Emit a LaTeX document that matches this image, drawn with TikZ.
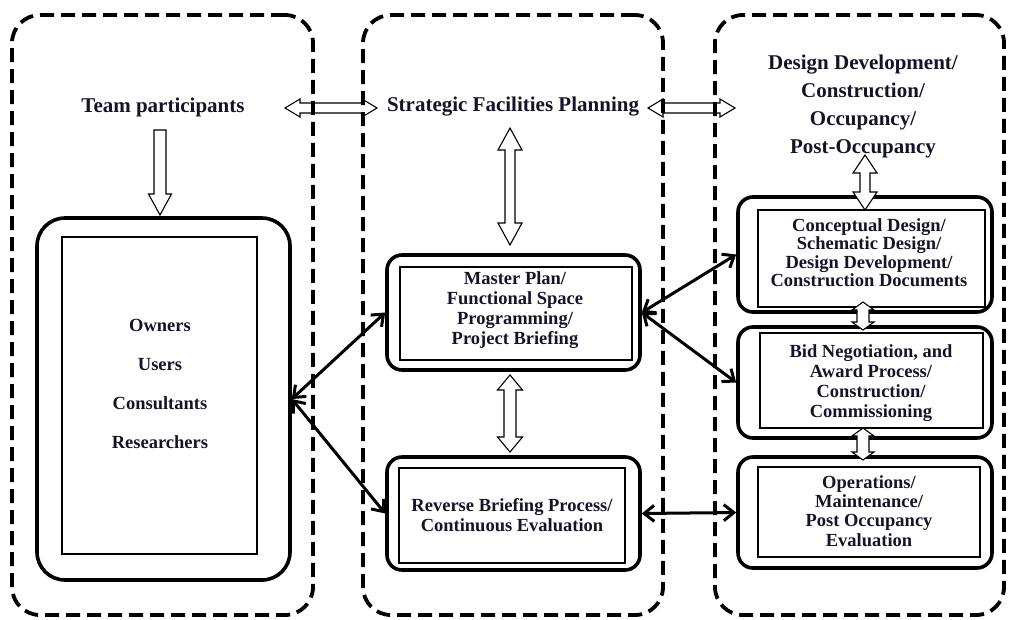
\documentclass[tikz,border=0pt]{standalone}
\usepackage{fontspec}
\setmainfont{Liberation Serif}
\usetikzlibrary{calc,arrows.meta}
\definecolor{ink}{RGB}{20,20,40}
\begin{document}
\begin{tikzpicture}[x=1pt,y=-1pt,
  panel/.style={draw, line width=3.8pt, dash pattern=on 14pt off 7pt, rounded corners=28pt, inner sep=0pt},
  outerbox/.style={draw, line width=3.6pt, rounded corners=#1, inner sep=0pt},
  innerbox/.style={draw, line width=1.1pt, inner sep=0pt},
  headtext/.style={font=\bfseries\fontsize{21}{27.7}\selectfont, text=ink, align=center, inner sep=0pt},
  boxtext/.style={font=\bfseries\fontsize{18.5}{#1}\selectfont, text=ink, align=center, inner sep=0pt},
  link/.style={line width=3pt, {Straight Barb[length=10pt,width=16pt]}-{Straight Barb[length=10pt,width=16pt]}},
  % hollow double-headed arrow: #1 head length, #2 half head width, #3 half shaft width
  fattwo/.style n args={3}{draw, line width=1.1pt, fill=white, line join=miter, to path={
    -- ($(\tikztostart)!#1!(\tikztotarget)!#2!90:(\tikztotarget)$)
    -- ($(\tikztostart)!#1!(\tikztotarget)!#3!90:(\tikztotarget)$)
    -- ($(\tikztotarget)!#1!(\tikztostart)!#3!-90:(\tikztostart)$)
    -- ($(\tikztotarget)!#1!(\tikztostart)!#2!-90:(\tikztostart)$)
    -- (\tikztotarget)
    -- ($(\tikztotarget)!#1!(\tikztostart)!#2!90:(\tikztostart)$)
    -- ($(\tikztotarget)!#1!(\tikztostart)!#3!90:(\tikztostart)$)
    -- ($(\tikztostart)!#1!(\tikztotarget)!#3!-90:(\tikztotarget)$)
    -- ($(\tikztostart)!#1!(\tikztotarget)!#2!-90:(\tikztotarget)$)
    -- cycle}},
  % hollow single-headed arrow
  fatone/.style n args={3}{draw, line width=1.1pt, fill=white, line join=miter, to path={
    -- ($(\tikztostart)!#3!90:(\tikztotarget)$)
    -- ($(\tikztotarget)!#1!(\tikztostart)!#3!-90:(\tikztostart)$)
    -- ($(\tikztotarget)!#1!(\tikztostart)!#2!-90:(\tikztostart)$)
    -- (\tikztotarget)
    -- ($(\tikztotarget)!#1!(\tikztostart)!#2!90:(\tikztostart)$)
    -- ($(\tikztotarget)!#1!(\tikztostart)!#3!90:(\tikztostart)$)
    -- ($(\tikztostart)!#3!-90:(\tikztotarget)$)
    -- cycle}}
]
\useasboundingbox (0,0) rectangle (1009,619);

% participants box
\node[outerbox=28pt, minimum width=253pt, minimum height=362pt] (own) at (163.5,399) {};
\node[innerbox, minimum width=195pt, minimum height=317pt] (owni) at (159.5,395.5) {};
\node[boxtext=39] (ownt) at (160,383.5) {Owners\\Users\\Consultants\\Researchers};

% planning boxes
\node[outerbox=15pt, minimum width=253pt, minimum height=115pt] (mp) at (513.5,312.5) {};
\node[innerbox, minimum width=232pt, minimum height=93pt] (mpi) at (516,313.5) {};
\node[boxtext=20] (mpt) at (515,310) {Master Plan/\\Functional Space\\Programming/\\Project Briefing};

\node[outerbox=15pt, minimum width=253pt, minimum height=113pt] (rv) at (513.5,513.5) {};
\node[innerbox, minimum width=226pt, minimum height=95pt] (rvi) at (512,515.5) {};
\node[boxtext=20] (rvt) at (512,515) {Reverse Briefing Process/\\Continuous Evaluation};

% delivery boxes
\node[outerbox=15pt, minimum width=254pt, minimum height=115pt] (b1) at (865,254.5) {};
\node[innerbox, minimum width=227pt, minimum height=97pt] (b1i) at (871.5,258.5) {};
\node[boxtext=18.5] (b1t) at (869,252.5) {Conceptual Design/\\Schematic Design/\\Design Development/\\Construction Documents};

\node[outerbox=15pt, minimum width=254pt, minimum height=111pt] (b2) at (865,382.5) {};
\node[innerbox, minimum width=223pt, minimum height=95pt] (b2i) at (871.5,380.5) {};
\node[boxtext=20] (b2t) at (871,383) {Bid Negotiation, and\\Award Process/\\Construction/\\Commissioning};

\node[outerbox=15pt, minimum width=254pt, minimum height=111pt] (b3) at (865,512.5) {};
\node[innerbox, minimum width=222pt, minimum height=90pt] (b3i) at (869,512) {};
\node[boxtext=19.3] (b3t) at (869,511) {Operations/\\Maintenance/\\Post Occupancy\\Evaluation};

% column headings
\node[headtext] (tp) at (163,107) {Team participants};
\node[headtext] (sfp) at (513,107) {Strategic Facilities Planning};
\node[headtext] (dd) at (863,106.5) {Design Development/\\Construction/\\Occupancy/\\Post-Occupancy};

% hollow arrow end points
\coordinate (d1a) at (160,130);  \coordinate (d1b) at (160,215);
\coordinate (h1a) at (285,108);  \coordinate (h1b) at (377,108);
\coordinate (h2a) at (648,108);  \coordinate (h2b) at (735,108);
\coordinate (v1a) at (510,128);  \coordinate (v1b) at (510,245);
\coordinate (v2a) at (510,375);  \coordinate (v2b) at (510,452);
\coordinate (v3a) at (865,155);  \coordinate (v3b) at (865,210);
\coordinate (v4a) at (863,302);  \coordinate (v4b) at (863,330);
\coordinate (v5a) at (863,428);  \coordinate (v5b) at (863,460);

\draw[fatone={21pt}{11.5pt}{6pt}] (d1a) to (d1b);
\draw[fattwo={15pt}{9pt}{5pt}] (h1a) to (h1b);
\draw[fattwo={15pt}{9pt}{5pt}] (h2a) to (h2b);
\draw[fattwo={22pt}{12pt}{5pt}] (v1a) to (v1b);
\draw[fattwo={15pt}{12.5pt}{6pt}] (v2a) to (v2b);
\draw[fattwo={18pt}{12pt}{5pt}] (v3a) to (v3b);
\draw[fattwo={8pt}{11pt}{6pt}] (v4a) to (v4b);
\draw[fattwo={8pt}{11pt}{6pt}] (v5a) to (v5b);

% information links
\draw[link] (own.east) -- (mp.west);
\draw[link] (own.east) -- (rv.west);
\draw[link] (mp.east) -- (b1.west);
\draw[link] (mp.east) -- (b2.west);
\draw[link] (rv.east) -- (b3.west);

% dashed columns
\node[panel, minimum width=301pt, minimum height=600pt] (colA) at (162.5,315) {};
\node[panel, minimum width=300pt, minimum height=600pt] (colB) at (513,315) {};
\node[panel, minimum width=289pt, minimum height=600pt] (colC) at (859.5,315) {};
\end{tikzpicture}
\end{document}
